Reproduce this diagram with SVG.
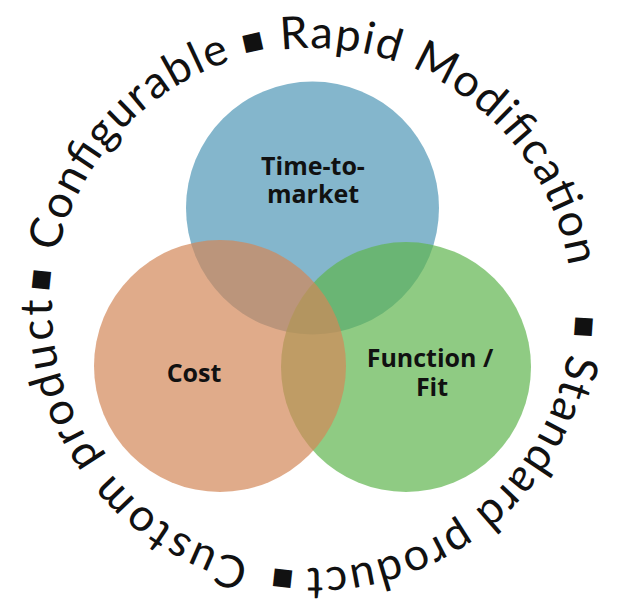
<svg xmlns="http://www.w3.org/2000/svg" width="618" height="602" viewBox="0 0 618 602">
  <style>
    .ring { font-family: Lato, "Open Sans", "Liberation Sans", sans-serif; font-size: 45px; fill: #111; }
    .bul { font-family: "DejaVu Sans", sans-serif; font-size: 23px; fill: #111; }
    .lbl { font-family: "Open Sans", "Liberation Sans", sans-serif; font-size: 25px; font-weight: bold; fill: #111; text-anchor: middle; }
  </style>
  <defs>
    <path id="ringPath" d="M 572 308 A 260 260 0 1 1 52 308 A 260 260 0 1 1 572 308 A 260 260 0 1 1 52 308 A 260 260 0 1 1 572 308" fill="none"/>
  </defs>
  <rect width="618" height="602" fill="#ffffff"/>

  <g id="node-time">
    <circle cx="312.5" cy="208" r="126.5" fill="#84b6cc"/>
  </g>
  <g id="node-function">
    <circle cx="406" cy="367" r="125" fill="#5fb54f" fill-opacity="0.7"/>
  </g>
  <g id="node-cost">
    <circle cx="220" cy="366" r="126" fill="#d38758" fill-opacity="0.7"/>
  </g>

  <g id="labels">
    <text class="lbl" x="313" y="175">Time-to-</text>
    <text class="lbl" x="313" y="203">market</text>
    <text class="lbl" x="194" y="382">Cost</text>
    <text class="lbl" x="430" y="367">Function /</text>
    <text class="lbl" x="432" y="396">Fit</text>
  </g>

  <g id="ring-text">
    <text class="ring" text-anchor="middle"><textPath href="#ringPath" startOffset="1007.4" textLength="269.6" lengthAdjust="spacing">Configurable</textPath></text>
    <text class="ring" text-anchor="middle"><textPath href="#ringPath" startOffset="1392.2" textLength="397.5" lengthAdjust="spacing">Rapid Modification</textPath></text>
    <text class="ring" text-anchor="middle"><textPath href="#ringPath" startOffset="229.6" textLength="367.6" lengthAdjust="spacing">Standard product</textPath></text>
    <text class="ring" text-anchor="middle"><textPath href="#ringPath" startOffset="648" textLength="354" lengthAdjust="spacing">Custom product</textPath></text>
    <text class="bul" text-anchor="middle" dy="-6"><textPath href="#ringPath" startOffset="843.6">■</textPath></text>
    <text class="bul" text-anchor="middle" dy="-6"><textPath href="#ringPath" startOffset="1167.6">■</textPath></text>
    <text class="bul" text-anchor="middle" dy="-6"><textPath href="#ringPath" startOffset="1650.9">■</textPath></text>
    <text class="bul" text-anchor="middle" dy="-6"><textPath href="#ringPath" startOffset="436.5">■</textPath></text>
  </g>
</svg>
